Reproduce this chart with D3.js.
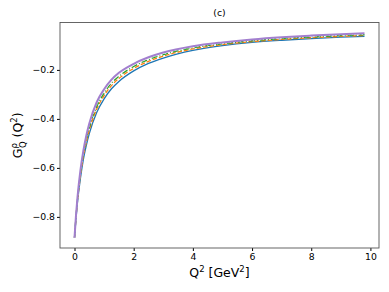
<!DOCTYPE html>
<html>
<head>
<meta charset="utf-8">
<script src="https://cdn.jsdelivr.net/npm/d3@7"></script>
<style>
  body { margin: 0; background: #fff; }
  svg text { font-family: "DejaVu Sans", sans-serif; fill: #000; }
</style>
</head>
<body>
<div id="chart"></div>
<script>
// Q^2 sample points (GeV^2)
const q2 = [0, 0.05, 0.1, 0.2, 0.3, 0.4, 0.5, 0.75, 1, 1.25, 1.5, 2, 2.5, 3, 4, 5, 6, 7, 8, 9, 9.8];

// curves, bottom to top
const blueSolid = [-0.885, -0.807, -0.742, -0.643, -0.565, -0.508, -0.46, -0.374, -0.318, -0.277, -0.247, -0.204, -0.1735, -0.1515, -0.1204, -0.1011, -0.0877, -0.0789, -0.0721, -0.0664, -0.0629];
const orangeDash = [-0.885, -0.803, -0.735, -0.632, -0.552, -0.494, -0.446, -0.36, -0.305, -0.264, -0.235, -0.194, -0.165, -0.144, -0.1145, -0.097, -0.0845, -0.0755, -0.0688, -0.0632, -0.0596];
const greenDashDot = [-0.885, -0.8, -0.73, -0.623, -0.543, -0.483, -0.435, -0.35, -0.295, -0.254, -0.226, -0.186, -0.158, -0.138, -0.11, -0.0935, -0.081, -0.0722, -0.0655, -0.06, -0.0565];
const greyDotted = [-0.885, -0.798, -0.726, -0.616, -0.536, -0.474, -0.426, -0.34, -0.286, -0.246, -0.219, -0.18, -0.153, -0.133, -0.1065, -0.0905, -0.0782, -0.0692, -0.0625, -0.057, -0.0535];
const purpleSolid = [-0.885, -0.795, -0.721, -0.61, -0.53, -0.468, -0.419, -0.332, -0.279, -0.24, -0.212, -0.175, -0.1485, -0.129, -0.1035, -0.0877, -0.0756, -0.0666, -0.0598, -0.054, -0.0503];

const xTicks = [0, 2, 4, 6, 8, 10];
const yTicks = [-0.8, -0.6, -0.4, -0.2];

const W = 389, H = 292;
const m = { left: 60, right: 10, top: 22.5, bottom: 44 };

const series = [
  { vals: blueSolid,    color: "#1f77b4", dash: null,      w: 1.3 },
  { vals: orangeDash,   color: "#ff7f0e", dash: "4.5,2",   w: 1.3 },
  { vals: greenDashDot, color: "#2ca02c", dash: "6,2,1,2", w: 1.3 },
  { vals: greyDotted,   color: "#f4f4f4", dash: "1.3,2",   w: 1.3 },
  { vals: purpleSolid,  color: "#a27fcf", dash: null,      w: 2.0 }
];

const svg = d3.select("#chart").append("svg")
  .attr("width", W).attr("height", H);

const x = d3.scaleLinear().domain([-0.49, 10.29]).range([m.left, W - m.right]);
const y = d3.scaleLinear().domain([-0.927, -0.0065]).range([H - m.bottom, m.top]);

const fmt = d => d3.format(".1f")(d).replace("-", "\u2212");

// axes
svg.append("g")
  .attr("transform", `translate(0,${H - m.bottom})`)
  .call(d3.axisBottom(x).tickValues(xTicks).tickSize(3).tickPadding(2).tickFormat(d3.format("d")))
  .call(g => g.select(".domain").remove())
  .call(g => g.selectAll("text").attr("font-size", 9.3).attr("font-family", "DejaVu Sans"));

svg.append("g")
  .attr("transform", `translate(${m.left},0)`)
  .call(d3.axisLeft(y).tickValues(yTicks).tickSize(3).tickPadding(2).tickFormat(fmt))
  .call(g => g.select(".domain").remove())
  .call(g => g.selectAll("text").attr("font-size", 9.3).attr("font-family", "DejaVu Sans"));

// curves
const line = d3.line().x((d, i) => x(q2[i])).y(d => y(d)).curve(d3.curveMonotoneX);

svg.append("g").selectAll("path")
  .data(series)
  .join("path")
  .attr("d", s => line(s.vals))
  .attr("fill", "none")
  .attr("stroke", s => s.color)
  .attr("stroke-width", s => s.w)
  .attr("stroke-dasharray", s => s.dash);

// frame
svg.append("rect")
  .attr("x", m.left).attr("y", m.top)
  .attr("width", W - m.left - m.right).attr("height", H - m.top - m.bottom)
  .attr("fill", "none").attr("stroke", "#555").attr("stroke-width", 0.9);

// title
svg.append("text")
  .attr("x", (m.left + W - m.right) / 2).attr("y", 16)
  .attr("text-anchor", "middle").attr("font-size", 9.3)
  .text("(c)");

// x label
const xl = svg.append("text")
  .attr("x", (m.left + W - m.right) / 2).attr("y", 277)
  .attr("text-anchor", "middle").attr("font-size", 12.5);
xl.append("tspan").text("Q");
xl.append("tspan").attr("font-size", 8.5).attr("dy", -5).text("2");
xl.append("tspan").attr("dy", 5).text(" [GeV");
xl.append("tspan").attr("font-size", 8.5).attr("dy", -5).text("2");
xl.append("tspan").attr("dy", 5).text("]");

// y label
const yl = svg.append("text")
  .attr("transform", `translate(22,${(m.top + H - m.bottom) / 2}) rotate(-90)`)
  .attr("text-anchor", "middle").attr("font-size", 12.5);
yl.append("tspan").text("G");
yl.append("tspan").attr("font-size", 8.5).attr("dy", -5).text("\u03c1");
yl.append("tspan").attr("font-size", 8.5).attr("dx", -5).attr("dy", 8.5).text("Q");
yl.append("tspan").attr("dy", -3.5).text(" (Q");
yl.append("tspan").attr("font-size", 8.5).attr("dy", -5).text("2");
yl.append("tspan").attr("dy", 5).text(")");
</script>
</body>
</html>
